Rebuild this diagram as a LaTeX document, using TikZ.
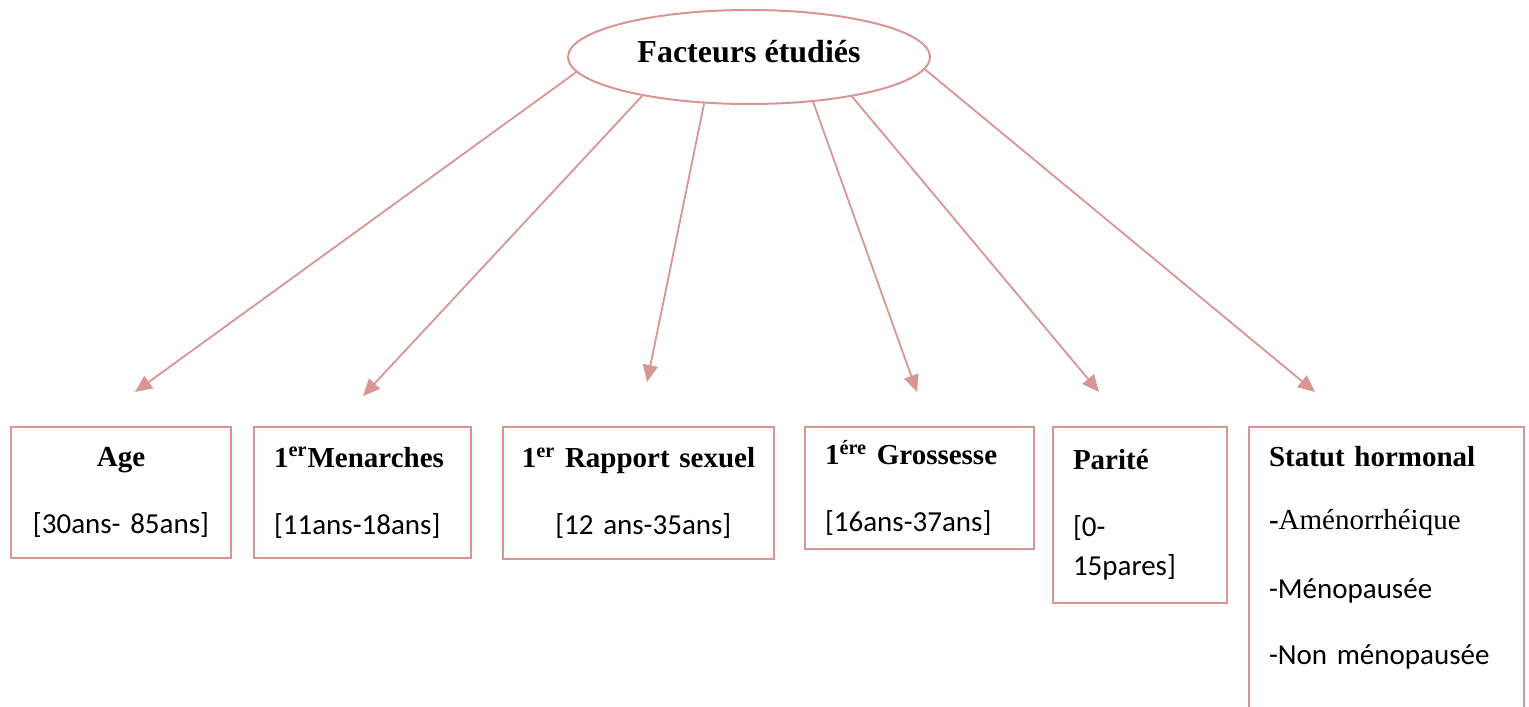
\documentclass[tikz,border=0pt]{standalone}
\usepackage{fontspec}
\setmainfont{Liberation Serif}
\newfontfamily\calib{Carlito}
\usetikzlibrary{shapes.geometric,arrows.meta,calc}
\definecolor{rose}{RGB}{217,149,148}
\newcommand\titre[1]{\textrm{\textbf{#1}}}

\begin{document}
\begin{tikzpicture}[
% 1 unit = 1 px of the page
  x=0.5pt, y=-0.5pt,
  cadre/.style = {draw=rose, line width=1pt, anchor=north west,
    inner xsep=10pt, inner ysep=0pt,
    font=\calib\fontsize{14.5}{19.5}\selectfont},
  fleche/.style = {draw=rose, line width=0.9pt,
    -{Triangle[length=8.5pt,width=7.5pt]}},
  %racine/.style = {ellipse, draw=rose},
]
  \useasboundingbox (0,0) rectangle (1529,706);

  \node[ellipse, draw=rose, line width=1pt, minimum width=181pt,
    minimum height=47pt, text depth=6pt,
    font=\bfseries\fontsize{16}{19}\selectfont] (facteurs) at (749,57)
    {Facteurs étudiés};

  % les facteurs
  \node[cadre, minimum width=110pt, minimum height=65.5pt, text width=90pt,
    align=center] (age) at (10,426)
    {\titre{Age}\\[14pt]{[}30ans- 85ans]};
  \node[cadre, minimum width=108.5pt, minimum height=65.5pt,
    text width=88.5pt, align=left] (menarches) at (253,426)
    {\titre{1\textsuperscript{er}Menarches}\\[14pt]{[}11ans-18ans]};
  \node[cadre, inner xsep=5pt, minimum width=135.5pt, minimum height=66pt,
    text width=125.5pt, align=center] (rapport) at (502,426)
    {\titre{1\textsuperscript{er} Rapport sexuel}\\[14pt]\ {[}12 ans-35ans]};
  \node[cadre, minimum width=114.5pt, minimum height=61pt, text width=94.5pt,
    align=left] (grossesse) at (804,426)
    {\titre{1\textsuperscript{ére} Grossesse}\\[14pt]{[}16ans-37ans]};
  \node[cadre, minimum width=87pt, minimum height=88pt, text width=67pt,
    align=left] (parite) at (1052,426)
    {\titre{Parité}\\[14pt]{[}0-\\15pares]};
  \node[cadre, minimum width=137.5pt, minimum height=152pt,
    text width=117.5pt, align=left] (statut) at (1248,426)
    {\titre{Statut hormonal}\\[12pt]%
     \textrm{\textbf{-}Aménorrhéique}\\[15pt]%
     -Ménopausée\\[13.5pt]%
     -Non ménopausée\\[4pt]\mbox{}};

  % fleches
  \draw[fleche] (facteurs.185) -- ($(age.north)+(14,-34)$);
  \draw[fleche] (facteurs.200) -- ($(menarches.north)+(0.5,-30)$);
  \draw[fleche] (facteurs.226) -- ($(rapport.north)+(8.5,-44)$);
  \draw[fleche] (facteurs.325) -- ($(grossesse.north)+(-2.5,-34)$);
  \draw[fleche] (facteurs.339) -- ($(parite.north)+(-41,-34)$);
  \draw[fleche] (facteurs.356) -- ($(statut.north)+(-71.5,-34)$);
\end{tikzpicture}
\end{document}
